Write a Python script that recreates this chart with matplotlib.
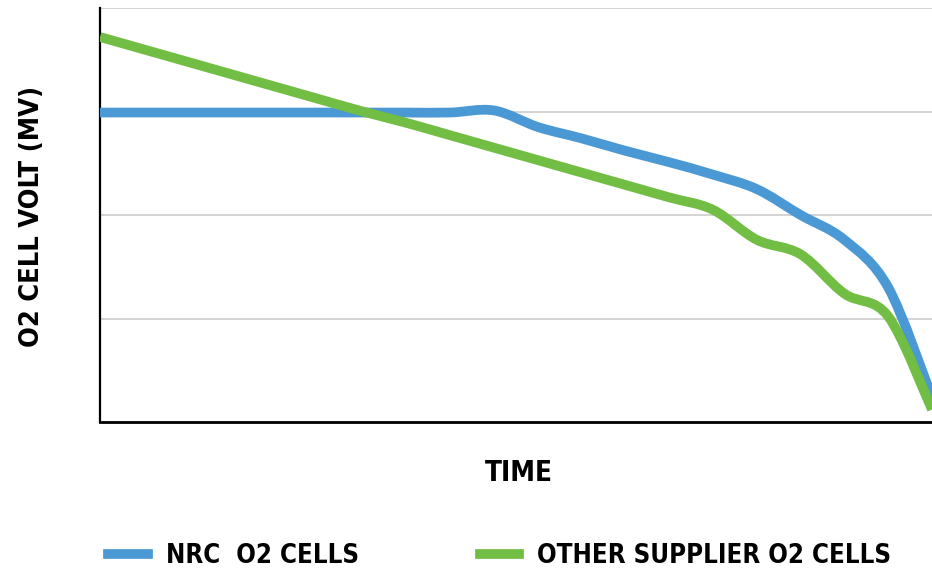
import numpy as np
import matplotlib
matplotlib.use("Agg")
import matplotlib.pyplot as plt
from matplotlib.path import Path
from matplotlib.patches import PathPatch
from matplotlib.lines import Line2D
from matplotlib.font_manager import FontProperties

# ---- data ----
time_idx = list(range(20))
nrc_values = [2.99, 2.99, 2.99, 2.99, 2.99, 2.99, 2.99, 2.99, 2.99, 3.01,
              2.85, 2.74, 2.62, 2.51, 2.39, 2.25, 2.00, 1.76, 1.30, 0.24]
other_values = [3.72, 3.60, 3.48, 3.36, 3.24, 3.12, 3.00, 2.89, 2.77, 2.65,
                2.53, 2.41, 2.29, 2.17, 2.05, 1.76, 1.62, 1.24, 1.02, 0.12]
series_names = ["NRC  O2 CELLS", "OTHER SUPPLIER O2 CELLS"]
series_colors = ["#4A98D4", "#72BE44"]
y_label = "O2 CELL VOLT (MV)"
x_label = "TIME"

FONT = ["DejaVu Sans"]
plt.rcParams['font.family'] = FONT


def fp(size):
    return FontProperties(family=FONT, weight="bold", stretch="condensed", size=size)


def smooth_path(xs, ys, tension=1/6):
    """Excel-like smoothed line: Catmull-Rom converted to cubic Bezier."""
    xs = np.asarray(xs, float)
    ys = np.asarray(ys, float)
    pts = np.column_stack([xs, ys])
    verts = [pts[0]]
    codes = [Path.MOVETO]
    n = len(pts)
    for i in range(n - 1):
        p0 = pts[i - 1] if i > 0 else pts[i]
        p1 = pts[i]
        p2 = pts[i + 1]
        p3 = pts[i + 2] if i + 2 < n else pts[i + 1]
        c1 = p1 + (p2 - p0) * tension
        c2 = p2 - (p3 - p1) * tension
        verts += [c1, c2, p2]
        codes += [Path.CURVE4] * 3
    return Path(verts, codes)


fig = plt.figure(figsize=(9.32, 5.76), dpi=100)
ax = fig.add_axes([100 / 932, 154 / 576, 832 / 932, 414 / 576])

lw = 7.0
for vals, col in zip([nrc_values, other_values], series_colors):
    p = smooth_path(time_idx, vals)
    patch = PathPatch(p, facecolor="none", edgecolor=col, lw=lw,
                      capstyle="butt", joinstyle="round", zorder=3)
    ax.add_patch(patch)

ax.set_xlim(time_idx[0], time_idx[-1])
ax.set_ylim(0, 4)
ax.set_yticks([1, 2, 3, 4])
ax.set_xticks([])
ax.tick_params(left=False, labelleft=False)
ax.grid(axis="y", color="#c8c8c8", lw=1.1)
ax.set_axisbelow(True)
for s in ["top", "right"]:
    ax.spines[s].set_visible(False)
ax.spines["left"].set_linewidth(1.6)
ax.spines["bottom"].set_linewidth(2.0)
ax.spines["left"].set_color("black")
ax.spines["bottom"].set_color("black")

fig.text(32 / 932, 1 - 216 / 576, y_label, rotation=90, ha="center", va="center",
         fontproperties=fp(19.5))
fig.text(519 / 932, 1 - 473 / 576, x_label, ha="center", va="center",
         fontproperties=fp(20))

handles = [Line2D([0], [0], color=c, lw=lw) for c in series_colors]
leg = fig.legend(handles, series_names, loc="center left", ncol=2,
                 bbox_to_anchor=(108 / 932, 1 - 556 / 576), frameon=False,
                 prop=fp(18.5), borderpad=0, borderaxespad=0,
                 handlelength=1.55, handletextpad=0.7, columnspacing=4.7)

fig.savefig("out.png", dpi=100)
